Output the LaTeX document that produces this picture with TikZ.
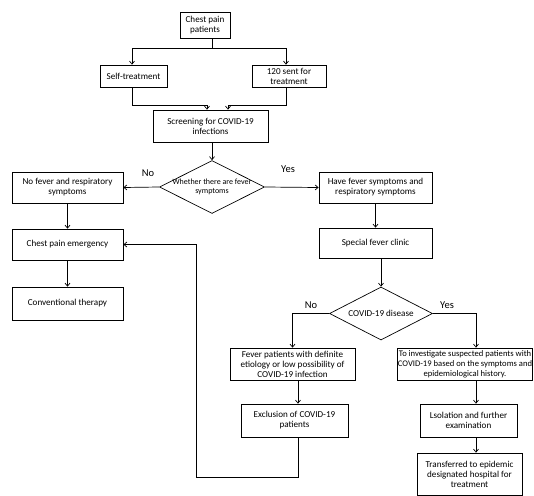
\documentclass[tikz,border=0pt]{standalone}
\usepackage{fontspec}
\setmainfont{Carlito}
\usetikzlibrary{shapes.geometric,arrows.meta}
\begin{document}
\begin{tikzpicture}[x=1pt,y=-1pt,
  line width=0.7pt,
  every node/.style={font=\fontsize{9.1}{10}\selectfont},
  box/.style={draw, align=center, inner sep=0.5pt},
  dia/.style={draw, diamond, inner sep=0pt},
  dtxt/.style={align=center, font=\fontsize{8}{9.2}\selectfont},
  lbl/.style={font=\fontsize{10.5}{12}\selectfont},
  arr/.style={-{Straight Barb[length=3pt,width=5pt]}}]
\useasboundingbox (0,0) rectangle (534,495);
% boxes
\node[box, minimum width=50pt, minimum height=26pt] (cpp) at (205,25) {Chest pain\\patients};
\node[box, minimum width=67pt, minimum height=22pt] (self) at (133.5,76) {Self-treatment};
\node[box, minimum width=74pt, minimum height=22pt] (sent) at (289,76) {120 sent for\\treatment};
\node[box, minimum width=115pt, minimum height=32pt] (screen) at (210.5,126) {Screening for COVID-19\\infections};
\node[dia, minimum width=105pt, minimum height=53pt] (d1) at (212,187) {};
\node[dtxt] (d1t) at (d1.center) {Whether there are fever\\symptoms};
\node[box, minimum width=111pt, minimum height=31pt] (nofever) at (67.5,187.5) {No fever and respiratory\\symptoms};
\node[box, minimum width=111pt, minimum height=31pt] (cpe) at (67.5,244.5) {Chest pain emergency};
\node[box, minimum width=111pt, minimum height=33pt] (conv) at (67.5,303.5) {Conventional therapy};
\node[box, minimum width=113pt, minimum height=31pt] (have) at (375.5,187.5) {Have fever symptoms and\\respiratory symptoms};
\node[box, minimum width=113pt, minimum height=30pt] (sfc) at (375.5,243) {Special fever clinic};
\node[dia, minimum width=103pt, minimum height=53pt] (d2) at (381,313.5) {};
\node (d2t) at (d2.center) {COVID-19 disease};
\node[box, minimum width=125pt, minimum height=32pt] (fever) at (292.5,364) {Fever patients with definite\\etiology or low possibility of\\COVID-19 infection};
\node[box, minimum width=135.5pt, minimum height=32pt, font=\fontsize{8.6}{10}\selectfont] (invest) at (465,364) {To investigate suspected patients with\\COVID-19 based on the symptoms and\\epidemiological history.};
\node[box, minimum width=107pt, minimum height=33pt] (excl) at (294.5,420.5) {Exclusion of COVID-19\\patients};
\node[box, minimum width=97pt, minimum height=33pt] (iso) at (468.5,420.5) {Lsolation and further\\examination};
\node[box, minimum width=105pt, minimum height=42pt] (trans) at (469.5,474) {Transferred to epidemic\\designated hospital for\\treatment};
% labels
\node[lbl] (lno1) at (148,173) {No};
\node[lbl] (lyes1) at (288,169) {Yes};
\node[lbl] (lno2) at (311,305) {No};
\node[lbl] (lyes2) at (447,305) {Yes};
% junction coordinates
\coordinate (j1) at (212,48);
\coordinate (a1) at (132,48);
\coordinate (a2) at (286,48);
\coordinate (s1) at (207,105);
\coordinate (s2) at (228,105);
\coordinate (c1) at (476,340);
\coordinate (f1) at (298,477);
\coordinate (f2) at (196,477);
\coordinate (f3) at (196,244.5);
% connectors
\draw (j1 |- cpp.south) -- (j1);
\draw[arr] (j1) -- (a1) -- (a1 |- self.north);
\draw[arr] (j1) -- (a2) -- (a2 |- sent.north);
\draw[arr] (a1 |- self.south) |- (s1) -- (s1 |- screen.north);
\draw[arr] (a2 |- sent.south) |- (s2) -- (s2 |- screen.north);
\draw[arr] (d1.north |- screen.south) -- (d1.north);
\draw[arr] (d1.west) -- (nofever.east);
\draw[arr] (d1.east) -- (have.west);
\draw[arr] (nofever.south) -- (cpe.north);
\draw[arr] (cpe.south) -- (conv.north);
\draw[arr] (have.south) -- (sfc.north);
\draw[arr] (d2.north |- sfc.south) -- (d2.north);
\draw[arr] (d2.west) -| (fever.north);
\draw[arr] (d2.east) -| (c1 |- invest.north);
\draw[arr] (f1 |- fever.south) -- (f1 |- excl.north);
\draw[arr] (c1 |- invest.south) -- (c1 |- iso.north);
\draw[arr] (c1 |- iso.south) -- (c1 |- trans.north);
\draw[arr] (f1 |- excl.south) -- (f1) -- (f2) -- (f3) -- (cpe.east);
\end{tikzpicture}
\end{document}
